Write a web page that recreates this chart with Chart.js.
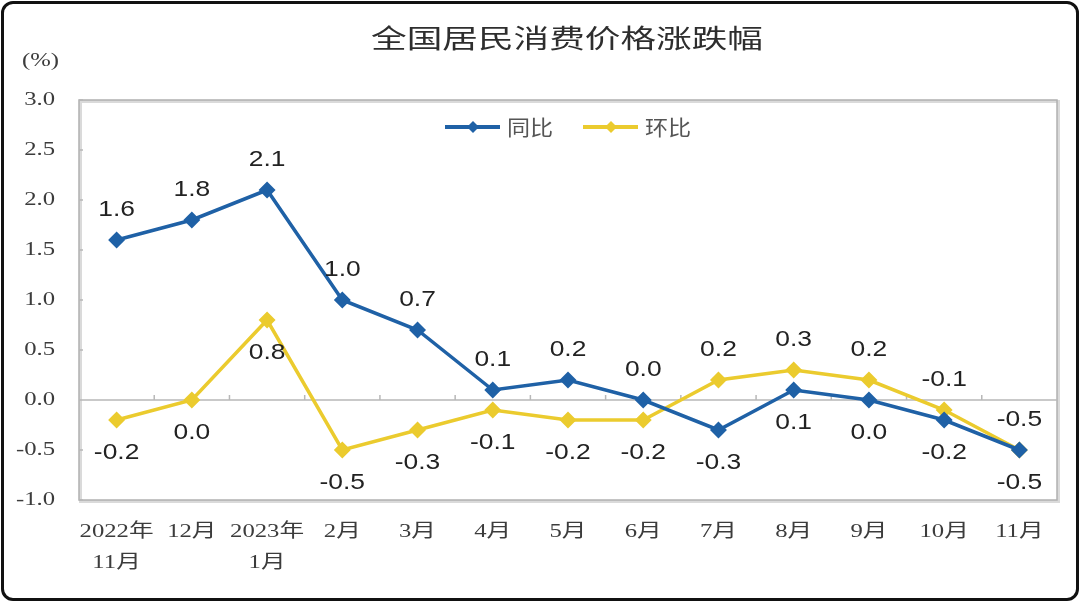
<!DOCTYPE html>
<html>
<head>
<meta charset="utf-8">
<script src="https://cdn.jsdelivr.net/npm/chart.js@4.4.0/dist/chart.umd.min.js"></script>
<style>
  html, body { margin: 0; padding: 0; background: #fff; }
  #wrap { position: relative; width: 1080px; height: 602px; }
  #frame { position: absolute; left: 1px; top: 1px; width: 1072px; height: 594px;
           border: 3px solid #111; border-radius: 12px; pointer-events: none; }
</style>
</head>
<body>
<div id="wrap">
  <canvas id="cpiChart" width="1080" height="602"></canvas>
  <div id="frame"></div>
</div>
<script>
// 数据
const months = [['2022年', '11月'], '12月', ['2023年', '1月'], '2月', '3月', '4月', '5月', '6月', '7月', '8月', '9月', '10月', '11月'];
const yoy = [1.6, 1.8, 2.1, 1.0, 0.7, 0.1, 0.2, 0.0, -0.3, 0.1, 0.0, -0.2, -0.5];   // 同比
const mom = [-0.2, 0.0, 0.8, -0.5, -0.3, -0.1, -0.2, -0.2, 0.2, 0.3, 0.2, -0.1, -0.5]; // 环比
const seriesNames = ['同比', '环比'];
const chartTitle = '全国居民消费价格涨跌幅';
const unitLabel = '(%)';

const BLUE = '#1f61a6';
const YELLOW = '#ebcb2e';
const serif = "'Liberation Serif', 'Noto Sans CJK SC', serif";

// 原图横向被拉宽了，文字也按比例横向拉伸
function wideText(ctx, text, x, y, sx) {
    ctx.save();
    ctx.translate(x, y);
    ctx.scale(sx, 1);
    ctx.fillText(text, 0, 0);
    ctx.restore();
}

const decor = {
    id: 'decor',
    beforeDatasetsDraw(chart) {
        const { ctx, chartArea: a, scales } = chart;
        ctx.save();
        // 绘图区边框（带一点阴影）
        ctx.strokeStyle = '#dadada';
        ctx.lineWidth = 3;
        ctx.strokeRect(a.left + 1.5, a.top + 1.5, a.right - a.left, a.bottom - a.top);
        ctx.strokeStyle = '#b0b0b0';
        ctx.lineWidth = 1.5;
        ctx.strokeRect(a.left, a.top, a.right - a.left, a.bottom - a.top);
        // 零线和刻度
        const y0 = scales.y.getPixelForValue(0);
        ctx.strokeStyle = '#b8b8b8';
        ctx.beginPath();
        ctx.moveTo(a.left, y0);
        ctx.lineTo(a.right, y0);
        const step = (a.right - a.left) / months.length;
        for (let i = 1; i < months.length; i++) {
            const x = a.left + i * step;
            ctx.moveTo(x, y0);
            ctx.lineTo(x, y0 - 5);
        }
        scales.y.ticks.forEach((t, i) => {
            const y = scales.y.getPixelForTick(i);
            ctx.moveTo(a.left, y);
            ctx.lineTo(a.left + 4, y);
        });
        ctx.stroke();

        // 坐标轴文字
        ctx.fillStyle = '#3c3c3c';
        ctx.font = "19px " + serif;
        ctx.textBaseline = 'middle';
        ctx.textAlign = 'right';
        scales.y.ticks.forEach((t, i) => {
            wideText(ctx, t.value.toFixed(1), 55, scales.y.getPixelForTick(i), 1.3);
        });
        ctx.textAlign = 'center';
        ctx.font = "19px " + serif;
        months.forEach((m, i) => {
            const x = scales.x.getPixelForTick(i);
            const lines = Array.isArray(m) ? m : [m];
            lines.forEach((s, k) => wideText(ctx, s, x, 532 + k * 31, 1.3));
        });
        ctx.fillText('', 0, 0);
        ctx.textAlign = 'left';
        wideText(ctx, unitLabel, 22, 61, 1.3);

        // 标题
        ctx.fillStyle = '#2e2e2e';
        ctx.font = "26px 'Noto Sans CJK SC'";
        ctx.textAlign = 'center';
        wideText(ctx, chartTitle, 567, 38, 1.37);

        // 图例
        const legend = [[445, BLUE, seriesNames[0]], [583, YELLOW, seriesNames[1]]];
        legend.forEach(([x, color, name]) => {
            const y = 127;
            ctx.strokeStyle = color;
            ctx.lineWidth = 4;
            ctx.beginPath();
            ctx.moveTo(x, y);
            ctx.lineTo(x + 55, y);
            ctx.stroke();
            ctx.fillStyle = color;
            ctx.beginPath();
            ctx.moveTo(x + 28, y - 6);
            ctx.lineTo(x + 34, y);
            ctx.lineTo(x + 28, y + 6);
            ctx.lineTo(x + 22, y);
            ctx.closePath();
            ctx.fill();
            ctx.fillStyle = '#555';
            ctx.font = "21px 'Noto Sans CJK SC'";
            ctx.textAlign = 'left';
            wideText(ctx, name, x + 62, y, 1.1);
        });
        ctx.restore();
    },
    afterDatasetsDraw(chart) {
        const { ctx } = chart;
        ctx.save();
        // 数据标签：较高的系列标在上方，较低的标在下方
        const m0 = chart.getDatasetMeta(0).data;
        const m1 = chart.getDatasetMeta(1).data;
        ctx.fillStyle = '#222';
        ctx.font = "22px 'Liberation Sans', Arial, sans-serif";
        ctx.textAlign = 'center';
        ctx.textBaseline = 'middle';
        for (let i = 0; i < months.length; i++) {
            const yoyUp = yoy[i] >= mom[i];
            const up = yoyUp ? [m0[i], yoy[i]] : [m1[i], mom[i]];
            const dn = yoyUp ? [m1[i], mom[i]] : [m0[i], yoy[i]];
            wideText(ctx, up[1].toFixed(1), up[0].x, up[0].y - 30, 1.2);
            wideText(ctx, dn[1].toFixed(1), dn[0].x, dn[0].y + 33, 1.2);
        }
        ctx.restore();
    }
};

const chart = new Chart(document.getElementById('cpiChart'), {
    type: 'line',
    data: {
        labels: months,
        datasets: [
            { label: seriesNames[0], data: yoy, borderColor: BLUE, backgroundColor: BLUE,
              borderWidth: 3.5, pointStyle: 'rectRot', pointRadius: 6, tension: 0 },
            { label: seriesNames[1], data: mom, borderColor: YELLOW, backgroundColor: YELLOW,
              borderWidth: 3.5, pointStyle: 'rectRot', pointRadius: 6, tension: 0 }
        ]
    },
    options: {
        responsive: false,
        animation: false,
        layout: { padding: { top: 100, right: 23, bottom: 0, left: 0 } },
        plugins: { legend: { display: false }, title: { display: false }, tooltip: { enabled: false } },
        scales: {
            x: {
                offset: true,
                grid: { display: false, drawTicks: false },
                border: { display: false },
                ticks: { display: false, autoSkip: false },
                afterFit(s) { s.height = 102; }
            },
            y: {
                min: -1, max: 3,
                grid: { display: false, drawTicks: false },
                border: { display: false },
                ticks: { display: false, stepSize: 0.5 },
                afterFit(s) { s.width = 79; }
            }
        }
    },
    plugins: [decor]
});
</script>
</body>
</html>
